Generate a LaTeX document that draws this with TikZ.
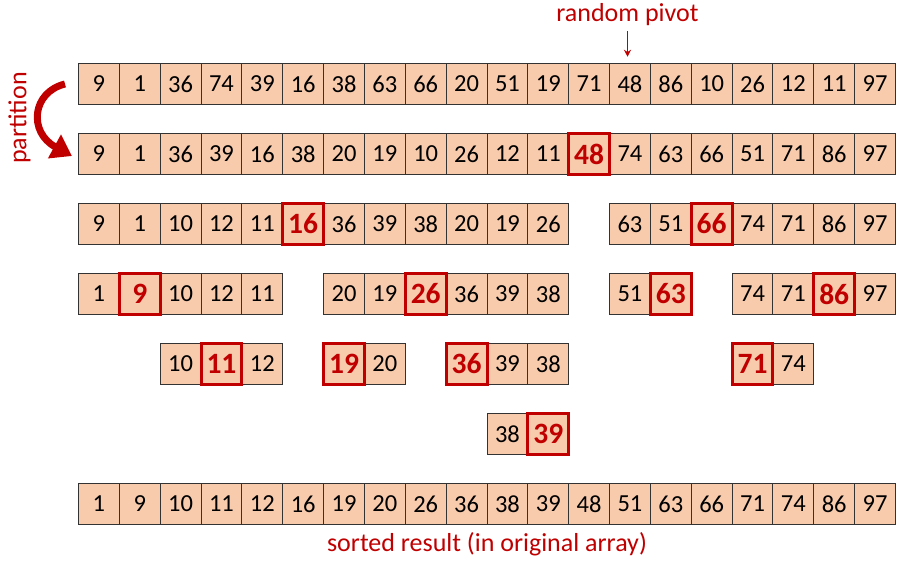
\documentclass[tikz,border=0pt]{standalone}
\usepackage{fontspec}
\setmainfont{Carlito}
\usetikzlibrary{arrows.meta}
\definecolor{cellfill}{HTML}{F8CBAD}
\definecolor{cellborder}{HTML}{333333}
\definecolor{pivred}{HTML}{C00000}
\tikzset{
  cell/.style={draw=cellborder, fill=cellfill, minimum width=40.85pt, minimum height=41.5pt, inner sep=0pt, line width=1pt, font=\fontsize{24.5}{24.5}\selectfont},
  pivot/.style={cell, draw=pivred, line width=3pt, text=pivred, font=\bfseries\fontsize{29.5}{29.5}\selectfont},
  redlabel/.style={text=pivred, font=\fontsize{26}{26}\selectfont, inner sep=0pt}
}
\newcommand\myseg[4]{%
  \foreach \v [count=\i from 0] in {#4}{%
    \pgfmathtruncatemacro\cc{#2+\i}%
    \ifnum\cc=#3\relax\else
      \node[cell] (r#1c\cc) at ({78.5+(\cc+0.5)*40.85},{84+70*(#1-1)}) {\v};
    \fi}%
  \foreach \v [count=\i from 0] in {#4}{%
    \pgfmathtruncatemacro\cc{#2+\i}%
    \ifnum\cc=#3\relax
      \node[pivot] (r#1c\cc) at ({78.5+(\cc+0.5)*40.85},{84+70*(#1-1)}) {\v};
    \fi}%
}
\begin{document}
\begin{tikzpicture}[x=1pt,y=-1pt]
\useasboundingbox (0,0) rectangle (910,562);
% row 1
\myseg{1}{0}{-1}{9,1,36,74,39,16,38,63,66,20,51,19,71,48,86,10,26,12,11,97}
% row 2
\myseg{2}{0}{12}{9,1,36,39,16,38,20,19,10,26,12,11,48,74,63,66,51,71,86,97}
% row 3
\myseg{3}{0}{5}{9,1,10,12,11,16,36,39,38,20,19,26}
\myseg{3}{13}{15}{63,51,66,74,71,86,97}
% row 4
\myseg{4}{0}{1}{1,9,10,12,11}
\myseg{4}{6}{8}{20,19,26,36,39,38}
\myseg{4}{13}{14}{51,63}
\myseg{4}{16}{18}{74,71,86,97}
% row 5
\myseg{5}{2}{3}{10,11,12}
\myseg{5}{6}{6}{19,20}
\myseg{5}{9}{9}{36,39,38}
\myseg{5}{16}{16}{71,74}
% row 6
\myseg{6}{10}{11}{38,39}
% row 7
\myseg{7}{0}{-1}{1,9,10,11,12,16,19,20,26,36,38,39,48,51,63,66,71,74,86,97}
% labels
\node[redlabel] (rp) at (627.5,15) {random pivot};
\draw[pivred, line width=1.4pt, -{Stealth[length=7pt,width=7pt]}] ([yshift=-5pt]rp.south) -- ([yshift=6pt]rp.south |- r1c13.north);
\node[redlabel, rotate=90] (pt) at (19.5,118) {partition};
\coordinate (pa) at ([xshift=-13pt]r1c0.west);
\coordinate (pb) at ([xshift=-6pt,yshift=-2pt]r2c0.west);
\draw[pivred, line width=7pt, -{Triangle[length=20pt,width=26pt]}] (pa) .. controls (32,92) and (28,132) .. (pb);
\node[redlabel] (sr) at (487,544) {sorted result (in original array)};
\end{tikzpicture}
\end{document}
